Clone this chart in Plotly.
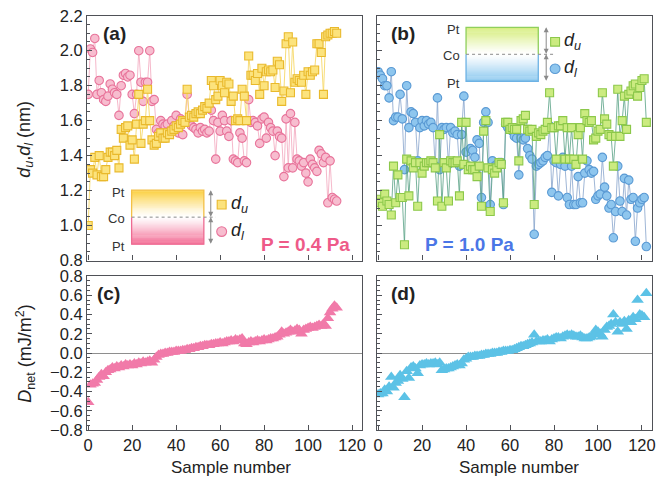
import plotly.graph_objects as go

# ---------------- data ----------------
sample_a = list(range(114))
du_a = [1.00, 1.32, 1.30, 1.39, 1.29, 1.40, 1.28, 1.28, 1.32, 1.39,
        1.42, 1.42, 1.40, 1.43, 1.33, 1.55, 1.50, 1.56, 1.57, 1.46,
        1.49, 1.38, 1.58, 1.75, 1.47, 1.58, 1.60, 1.78, 1.60, 1.49,
        1.46, 1.47, 1.51, 1.53, 1.50, 1.50, 1.53, 1.52, 1.54, 1.55,
        1.57, 1.56, 1.58, 1.60, 1.59, 1.78, 1.62, 1.63, 1.62, 1.64,
        1.65, 1.64, 1.66, 1.68, 1.67, 1.70, 1.83, 1.80, 1.72, 1.74,
        1.83, 1.80, 1.76, 1.82, 1.81, 1.71, 1.74, 1.60, 1.61, 1.60,
        1.78, 1.74, 1.60, 1.97, 1.86, 1.86, 1.83, 1.87, 1.75, 1.90,
        1.80, 1.88, 1.89, 1.88, 1.89, 1.79, 1.94, 1.92, 1.71, 1.77,
        2.04, 2.08, 1.76, 2.05, 1.82, 1.84, 1.83, 1.82, 1.86, 1.75,
        1.88, 1.86, 1.88, 1.89, 2.04, 2.04, 1.99, 1.75, 2.08, 2.09,
        2.10, 2.10, 2.11, 2.10]
dl_a = [1.75, 2.01, 1.99, 2.07, 1.75, 1.83, 1.76, 1.72, 1.71, 1.74,
        1.81, 1.78, 1.76, 1.75, 1.63, 1.80, 1.86, 1.87, 1.85, 1.86,
        1.75, 1.64, 1.75, 2.00, 1.82, 1.71, 1.82, 1.82, 2.00, 1.71,
        1.72, 1.55, 1.53, 1.60, 1.58, 1.57, 1.58, 1.54, 1.60, 1.57,
        1.63, 1.53, 1.61, 1.52, 1.59, 1.75, 1.61, 1.57, 1.56, 1.55,
        1.53, 1.56, 1.54, 1.55, 1.53, 1.54, 1.66, 1.60, 1.38, 1.59,
        1.54, 1.63, 1.60, 1.54, 1.51, 1.60, 1.38, 1.37, 1.36, 1.53,
        1.50, 1.37, 1.36, 1.72, 1.59, 1.60, 1.59, 1.57, 1.47, 1.61,
        1.62, 1.50, 1.59, 1.56, 1.54, 1.40, 1.54, 1.51, 1.50, 1.28,
        1.61, 1.33, 1.64, 1.33, 1.59, 1.38, 1.37, 1.34, 1.36, 1.30,
        1.25, 1.38, 1.35, 1.33, 1.31, 1.43, 1.41, 1.36, 1.39, 1.13,
        1.37, 1.16, 1.15, 1.14]
dnet_a = [-0.51, -0.33, -0.32, -0.31, -0.28, -0.25, -0.22, -0.24, -0.20, -0.18,
          -0.17, -0.15, -0.16, -0.14, -0.15, -0.13, -0.14, -0.12, -0.13, -0.12,
          -0.13, -0.11, -0.12, -0.10, -0.11, -0.09, -0.10, -0.09, -0.08, -0.10,
          -0.07, -0.04, -0.02, -0.01, -0.01, 0.00, 0.00, 0.01, 0.01, 0.01,
          0.02, 0.02, 0.02, 0.03, 0.03, 0.04, 0.04, 0.05, 0.05, 0.06,
          0.06, 0.07, 0.07, 0.08, 0.08, 0.08, 0.09, 0.09, 0.10, 0.10,
          0.11, 0.10, 0.11, 0.12, 0.12, 0.13, 0.12, 0.14, 0.13, 0.14,
          0.15, 0.10, 0.09, 0.11, 0.12, 0.11, 0.12, 0.13, 0.12, 0.13,
          0.14, 0.13, 0.14, 0.15, 0.15, 0.16, 0.17, 0.19, 0.22, 0.20,
          0.21, 0.22, 0.24, 0.22, 0.23, 0.25, 0.24, 0.20, 0.24, 0.25,
          0.26, 0.27, 0.26, 0.27, 0.28, 0.29, 0.28, 0.30, 0.28, 0.36,
          0.42, 0.46, 0.49, 0.47]

sample_b = list(range(123))
du_b = [1.15, 1.13, 1.11, 1.18, 1.14, 1.12, 1.06, 1.34, 1.13, 1.29,
        1.16, 1.16, 0.89, 1.38, 1.17, 1.37, 1.33, 1.36, 1.11, 1.36,
        1.30, 1.34, 1.36, 1.36, 1.37, 1.36, 1.33, 1.14, 1.52, 1.11,
        1.36, 1.33, 1.14, 1.37, 1.36, 1.36, 1.37, 1.17, 1.59, 1.35,
        1.59, 1.32, 1.34, 1.32, 1.32, 1.28, 1.34, 1.11, 1.54, 1.60,
        1.33, 1.08, 1.32, 1.30, 1.33, 1.36, 1.35, 1.13, 1.59, 1.59,
        1.55, 1.56, 1.55, 1.55, 1.37, 1.60, 1.61, 1.63, 1.55, 1.54,
        1.55, 1.12, 1.51, 1.53, 1.52, 1.54, 1.55, 1.59, 1.76, 1.56,
        1.56, 1.38, 1.57, 1.57, 1.60, 1.38, 1.56, 1.38, 1.56, 1.38,
        1.35, 1.52, 1.56, 1.38, 1.64, 1.60, 1.59, 1.60, 1.49, 1.50,
        1.54, 1.55, 1.76, 1.61, 1.58, 1.52, 1.51, 1.34, 1.51, 1.78,
        1.51, 1.60, 1.74, 1.55, 1.75, 1.77, 1.80, 1.81, 1.74, 1.79,
        1.83, 1.84, 1.59]
dl_b = [1.88, 1.86, 1.84, 1.80, 1.80, 1.73, 1.88, 1.60, 1.62, 1.62,
        1.75, 1.61, 1.32, 1.80, 1.56, 1.65, 1.64, 1.59, 1.37, 1.56,
        1.60, 1.57, 1.60, 1.58, 1.59, 1.56, 1.34, 1.73, 1.32, 1.56,
        1.55, 1.56, 1.35, 1.56, 1.53, 1.54, 1.52, 1.34, 1.52, 1.74,
        1.42, 1.34, 1.44, 1.43, 1.39, 1.49, 1.47, 1.16, 1.59, 1.65,
        1.59, 1.12, 1.37, 1.34, 1.35, 1.36, 1.36, 1.12, 1.58, 1.56,
        1.55, 1.54, 1.51, 1.50, 1.29, 1.50, 1.49, 1.50, 1.44, 1.40,
        1.38, 0.95, 1.34, 1.35, 1.36, 1.37, 1.39, 1.40, 1.57, 1.19,
        1.37, 1.36, 1.17, 1.35, 1.39, 1.34, 1.16, 1.12, 1.34, 1.12,
        1.12, 1.28, 1.13, 1.13, 1.30, 1.37, 1.32, 1.30, 1.31, 1.15,
        1.17, 1.18, 1.39, 1.22, 1.17, 1.10, 1.12, 0.93, 1.08, 1.34,
        1.14, 1.08, 1.27, 1.06, 1.26, 1.15, 1.16, 0.91, 1.10, 1.13,
        1.15, 1.16, 0.88]
dnet_b = [-0.43, -0.42, -0.42, -0.38, -0.40, -0.35, -0.25, -0.36, -0.31, -0.29,
          -0.23, -0.27, -0.46, -0.19, -0.26, -0.15, -0.14, -0.16, -0.21, -0.13,
          -0.12, -0.12, -0.11, -0.12, -0.11, -0.11, -0.10, -0.12, -0.10, -0.18,
          -0.17, -0.16, -0.16, -0.15, -0.14, -0.13, -0.12, -0.13, -0.11, -0.07,
          -0.06, -0.04, -0.04, -0.04, -0.03, -0.03, -0.03, -0.02, -0.02, -0.01,
          -0.01, -0.01, 0.00, 0.00, 0.00, 0.01, 0.01, 0.02, 0.02, 0.02,
          0.03, 0.03, 0.04, 0.05, 0.06, 0.07, 0.07, 0.08, 0.09, 0.10,
          0.11, 0.19, 0.12, 0.12, 0.12, 0.13, 0.13, 0.14, 0.12, 0.14,
          0.15, 0.16, 0.16, 0.15, 0.17, 0.18, 0.19, 0.18, 0.19, 0.18,
          0.17, 0.17, 0.18, 0.16, 0.15, 0.15, 0.16, 0.17, 0.19, 0.24,
          0.22, 0.20, 0.17, 0.24, 0.27, 0.28, 0.30, 0.40, 0.32, 0.22,
          0.32, 0.30, 0.33, 0.25, 0.34, 0.32, 0.37, 0.35, 0.55, 0.40,
          0.39, 0.37, 0.62]

x_ticks = [0, 20, 40, 60, 80, 100, 120]
y_top_ticks = [0.8, 1.0, 1.2, 1.4, 1.6, 1.8, 2.0, 2.2]
y_bot_ticks = [-0.8, -0.6, -0.4, -0.2, 0.0, 0.2, 0.4, 0.6, 0.8]

# ---------------- helpers ----------------
W, H = 662, 495
FONT = "Liberation Sans, Arial, sans-serif"
FRAME = "#4f5157"


def PX(x):
    return x / W


def PY(y):
    return 1 - y / H


def mix(c, t):
    """blend hex colour c with white; t=1 -> c, t=0 -> white"""
    r, g, b = int(c[1:3], 16), int(c[3:5], 16), int(c[5:7], 16)
    r = round(255 + (r - 255) * t)
    g = round(255 + (g - 255) * t)
    b = round(255 + (b - 255) * t)
    return f"rgb({r},{g},{b})"


fig = go.Figure()

# panel (a)
fig.add_trace(go.Scatter(x=sample_a, y=dl_a, xaxis="x", yaxis="y", mode="lines+markers",
                         line=dict(color="#f4b0c4", width=0.9),
                         marker=dict(symbol="circle", size=8.5, color="#f7bdcf",
                                     line=dict(color="#e8739a", width=1.1)),
                         showlegend=False))
fig.add_trace(go.Scatter(x=sample_a, y=du_a, xaxis="x", yaxis="y", mode="lines+markers",
                         line=dict(color="#f6d868", width=0.9),
                         marker=dict(symbol="square", size=8, color="#fce37d",
                                     line=dict(color="#e9b92c", width=1.1)),
                         showlegend=False))
# panel (b)
fig.add_trace(go.Scatter(x=sample_b, y=dl_b, xaxis="x2", yaxis="y2", mode="lines+markers",
                         line=dict(color="#86a3cc", width=0.8),
                         marker=dict(symbol="circle", size=8.5, color="#8ec6ee",
                                     line=dict(color="#5a9ad4", width=1.1)),
                         showlegend=False))
fig.add_trace(go.Scatter(x=sample_b, y=du_b, xaxis="x2", yaxis="y2", mode="lines+markers",
                         line=dict(color="#56a083", width=0.8),
                         marker=dict(symbol="square", size=8, color="#cbeb80",
                                     line=dict(color="#8cc84a", width=1.1)),
                         showlegend=False))
# panel (c), (d)
fig.add_trace(go.Scatter(x=sample_a, y=dnet_a, xaxis="x3", yaxis="y3", mode="markers",
                         marker=dict(symbol="triangle-up", size=11, color="#f17aa9"),
                         showlegend=False))
fig.add_trace(go.Scatter(x=sample_b, y=dnet_b, xaxis="x4", yaxis="y4", mode="markers",
                         marker=dict(symbol="triangle-up", size=11, color="#5cc2e6"),
                         showlegend=False))

tickfont = dict(family=FONT, size=16.5, color="#222")
xbase = dict(range=[-0.5, 124.6], showline=True, mirror=True, linecolor=FRAME, linewidth=1.3,
             ticks="inside", ticklen=5, tickcolor=FRAME, tickwidth=1.2,
             tickvals=x_ticks, showgrid=False, zeroline=False, tickfont=tickfont)
ybase = dict(showline=True, mirror=True, linecolor=FRAME, linewidth=1.3,
             ticks="inside", ticklen=5, tickcolor=FRAME, tickwidth=1.2,
             tickformat=".1f", showgrid=False, tickfont=tickfont,
             minor=dict(dtick=0.05, ticks="inside", ticklen=3, tickcolor=FRAME, showgrid=False))

dom_xl = [PX(85), PX(363)]
dom_xr = [PX(378), PX(656)]
dom_yt = [PY(261), PY(7)]
dom_yb = [PY(437), PY(277)]

fig.update_layout(
    xaxis=dict(xbase, domain=dom_xl, anchor="y", showticklabels=False),
    xaxis2=dict(xbase, domain=dom_xr, anchor="y2", showticklabels=False),
    xaxis3=dict(xbase, domain=dom_xl, anchor="y3"),
    xaxis4=dict(xbase, domain=dom_xr, anchor="y4"),
    yaxis=dict(ybase, domain=dom_yt, anchor="x", range=[0.8, 2.2], tickvals=y_top_ticks, zeroline=False),
    yaxis2=dict(ybase, domain=dom_yt, anchor="x2", range=[0.8, 2.2], tickvals=y_top_ticks,
                showticklabels=False, zeroline=False),
    yaxis3=dict(ybase, domain=dom_yb, anchor="x3", range=[-0.8, 0.8], tickvals=y_bot_ticks,
                zeroline=True, zerolinecolor="#8e8e8e", zerolinewidth=1),
    yaxis4=dict(ybase, domain=dom_yb, anchor="x4", range=[-0.8, 0.8], tickvals=y_bot_ticks,
                showticklabels=False, zeroline=True, zerolinecolor="#8e8e8e", zerolinewidth=1),
)

# ---------------- annotations ----------------
ann = []


def text(x, y, s, size=17, color="#222", bold=False, xanchor="center", angle=0):
    if bold:
        s = f"<b>{s}</b>"
    ann.append(dict(x=PX(x), y=PY(y), xref="paper", yref="paper", text=s, showarrow=False,
                    xanchor=xanchor, yanchor="middle", textangle=angle,
                    font=dict(family=FONT, size=size, color=color)))


text(113, 25, "(a)", 19, "#222", True)
text(404, 25, "(b)", 19, "#222", True)
text(107, 295, "(c)", 19, "#222", True)
text(404, 295, "(d)", 19, "#222", True)
text(306, 244, "P = 0.4 Pa", 19, "#ee5a88", True)
text(471, 244, "P = 1.0 Pa", 19, "#4b76e6", True)
text(22, 135, "<i>d</i><sub><i>u</i></sub>,<i>d</i><sub><i>l</i></sub> (nm)", 18, angle=-90)
text(22, 357, "<i>D</i><sub>net</sub> (mJ/m<sup>2</sup>)", 18, angle=-90)
text(230, 476, "Sample number", 17)
text(522, 476, "Sample number", 17)

shapes = []


def inset(x0, x1, ytop, ybot, ctop, cbot, btop, bbot, xarrow, xdash_end, lab_x, leg_x, ucol, lcol):
    ymid = (ytop + ybot) / 2
    n = 28
    h = (ymid - ytop) / n
    for i in range(n):
        ya = ytop + i * h
        t = 1 - (i + 0.5) / n
        shapes.append(dict(type="rect", xref="paper", yref="paper", x0=PX(x0), x1=PX(x1),
                           y0=PY(ya), y1=PY(ya + h + 0.4), line=dict(width=0),
                           fillcolor=mix(ctop, t ** 1.2), layer="above"))
    h2 = (ybot - ymid) / n
    for i in range(n):
        ya = ymid + i * h2
        t = (i + 0.5) / n
        shapes.append(dict(type="rect", xref="paper", yref="paper", x0=PX(x0), x1=PX(x1),
                           y0=PY(ya), y1=PY(ya + h2 + 0.4), line=dict(width=0),
                           fillcolor=mix(cbot, t ** 1.2), layer="above"))
    shapes.append(dict(type="path", xref="paper", yref="paper", layer="above",
                       path=f"M {PX(x0)},{PY(ymid)} L {PX(x0)},{PY(ytop)} L {PX(x1)},{PY(ytop)} L {PX(x1)},{PY(ymid)}",
                       line=dict(color=btop, width=1.3)))
    shapes.append(dict(type="path", xref="paper", yref="paper", layer="above",
                       path=f"M {PX(x0)},{PY(ymid)} L {PX(x0)},{PY(ybot)} L {PX(x1)},{PY(ybot)} L {PX(x1)},{PY(ymid)}",
                       line=dict(color=bbot, width=1.3)))
    shapes.append(dict(type="line", xref="paper", yref="paper", layer="above",
                       x0=PX(x0), x1=PX(xdash_end), y0=PY(ymid), y1=PY(ymid),
                       line=dict(color="#8a8a8a", width=1, dash="dot")))
    for (ya, yb) in [(ytop, ymid), (ymid, ybot)]:
        ann.append(dict(x=PX(xarrow), y=PY(ya), xref="paper", yref="paper", text="",
                        showarrow=True, ax=0, ay=(yb - ya), arrowside="end+start",
                        arrowhead=2, arrowsize=1, arrowwidth=1, arrowcolor="#8a8a8a",
                        standoff=0, startstandoff=0))
    text(lab_x, ytop + 2, "Pt", 13, "#333", xanchor="right")
    text(lab_x, ymid + 1, "Co", 13, "#333", xanchor="right")
    text(lab_x, ybot + 2, "Pt", 13, "#333", xanchor="right")
    # legend symbols
    yu = ytop + 15
    yl = ybot - 13
    shapes.append(dict(type="rect", xref="paper", yref="paper", layer="above",
                       x0=PX(leg_x - 4.5), x1=PX(leg_x + 4.5), y0=PY(yu - 4.5), y1=PY(yu + 4.5),
                       fillcolor=ucol[0], line=dict(color=ucol[1], width=1.1)))
    shapes.append(dict(type="circle", xref="paper", yref="paper", layer="above",
                       x0=PX(leg_x - 5), x1=PX(leg_x + 5), y0=PY(yl - 5), y1=PY(yl + 5),
                       fillcolor=lcol[0], line=dict(color=lcol[1], width=1.1)))
    text(leg_x + 7, yu, "<i>d</i><sub><i>u</i></sub>", 18, "#222", xanchor="left")
    text(leg_x + 7, yl, "<i>d</i><sub><i>l</i></sub>", 18, "#222", xanchor="left")


inset(130, 203, 188, 244, "#fbcf3c", "#f2628d", "#f3c046", "#ee6b92", 210, 215, 125, 221,
      ("#fce37d", "#e9b92c"), ("#f7bdcf", "#e8739a"))
inset(468, 541, 19, 75, "#d3ec74", "#86c6ee", "#8fcf5c", "#6db2e4", 549, 557, 464, 558,
      ("#cbeb80", "#8cc84a"), ("#8ec6ee", "#5a9ad4"))

fig.update_layout(annotations=ann, shapes=shapes, width=W, height=H, autosize=False,
                  margin=dict(l=0, r=0, t=0, b=0), paper_bgcolor="white", plot_bgcolor="white",
                  font=dict(family=FONT))

fig.write_html("out.html")
